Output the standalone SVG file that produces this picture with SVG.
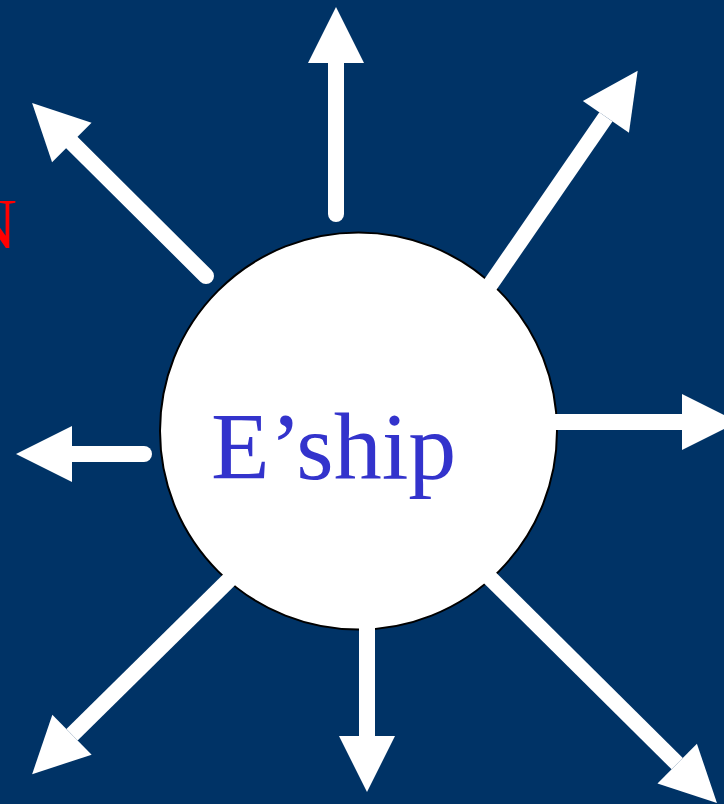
<svg xmlns="http://www.w3.org/2000/svg" width="724" height="804" viewBox="0 0 724 804">
  <style>
    .bg { fill: #003366; }
    .hub { fill: #ffffff; stroke: #000000; stroke-width: 2; }
    .ray { fill: none; stroke: #ffffff; stroke-width: 16; stroke-linecap: round; marker-end: url(#head); }
    .ray-in { stroke-linecap: butt; }
    .label { font-family: "Liberation Serif", "Times New Roman", serif; }
  </style>
  <defs>
    <marker id="head" markerUnits="userSpaceOnUse" viewBox="0 -28 56 56" refX="0" refY="0" markerWidth="56" markerHeight="56" orient="auto" overflow="visible">
      <path d="M0,-28 L56,0 L0,28 Z" fill="#ffffff"/>
    </marker>
  </defs>

  <rect class="bg" x="0" y="0" width="724" height="804"/>

  <!-- partly visible side caption -->
  <text class="label" x="17" y="248" font-size="72" fill="#ff0000" text-anchor="end">N</text>

  <g id="hub">
    <circle class="hub" cx="358.5" cy="431" r="198.5"/>
  </g>

  <!-- eight outgoing arrows; each line ends at the base of its head -->
  <g id="connectors">
    <!-- up -->
    <line class="ray" x1="336" y1="214" x2="336" y2="63"/>
    <!-- up-left -->
    <line class="ray" x1="206" y1="276" x2="71.8" y2="142.5"/>
    <!-- left -->
    <line class="ray" x1="144" y1="454" x2="72" y2="454"/>
    <!-- up-right -->
    <line class="ray ray-in" x1="488" y1="288" x2="605.9" y2="116.9"/>
    <!-- right -->
    <line class="ray ray-in" x1="550" y1="422" x2="682" y2="422"/>
    <!-- down-right -->
    <line class="ray ray-in" x1="484" y1="572" x2="677.2" y2="763.6"/>
    <!-- down -->
    <line class="ray ray-in" x1="367" y1="620" x2="367" y2="736"/>
    <!-- down-left -->
    <line class="ray ray-in" x1="235" y1="574" x2="72" y2="734.8"/>
  </g>

  <g id="hub-label">
    <text class="label" x="211" y="479" font-size="96" fill="#3333cc">E’ship</text>
  </g>
</svg>
